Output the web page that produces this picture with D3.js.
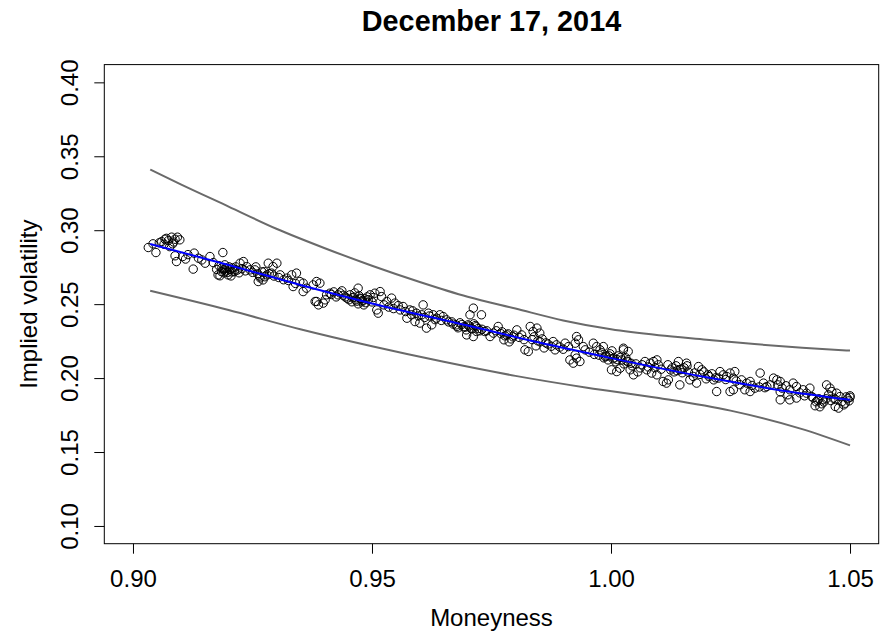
<!DOCTYPE html>
<html><head><meta charset="utf-8">
<script src="https://cdn.jsdelivr.net/npm/d3@7"></script>
<style>body{margin:0;background:#fff}svg{display:block}text{font-family:"Liberation Sans",Arial,Helvetica,sans-serif}</style>
</head><body><svg id="c" width="891" height="639"></svg>
<script>
const titleText = "December 17, 2014";
const xLabel = "Moneyness";
const yLabel = "Implied volatility";
const xTicks = [0.90, 0.95, 1.00, 1.05];
const yTicks = [0.10, 0.15, 0.20, 0.25, 0.30, 0.35, 0.40];

// scatter points (moneyness, implied volatility)
const ptX = [
0.9032,0.9042,0.9048,0.9060,0.9067,0.9074,0.9081,0.9088,0.9093,0.9083,0.9077,0.9088,0.9091,0.9104,0.9126,0.9128,0.9137,0.9144,0.9151,0.9161,0.9168,0.9178,0.9188,0.9192,0.9189,0.9182,0.9196,
0.9186,0.9195,0.9201,0.9207,0.9213,0.9199,0.9190,0.9205,0.9215,0.9224,0.9231,0.9238,0.9245,0.9255,0.9261,0.9270,0.9276,0.9266,0.9280,0.9257,0.9272,0.9262,0.9283,0.9293,0.9301,0.9290,0.9308,0.9322,0.9332,0.9342,0.9349,0.9335,0.9356,0.9363,0.9377,0.9381,0.9384,
0.9356,0.9391,0.9384,0.9388,0.9398,0.9402,0.9405,0.9412,0.9420,0.9429,0.9437,0.9444,0.9425,0.9433,0.9454,0.9460,0.9466,0.9473,0.9479,0.9485,0.9458,0.9471,0.9483,0.9490,0.9464,0.9477,0.9471,0.9496,0.9506,0.9517,0.9520,0.9510,0.9513,0.9531,0.9541,0.9548,0.9559,0.9565,0.9579,0.9583,0.9573,0.9590,0.9607,0.9593,0.9604,0.9618,0.9628,0.9635,0.9600,0.9614,0.9625,0.9642,0.9649,0.9656,
0.9667,0.9676,0.9684,0.9692,0.9701,0.9709,0.9718,0.9726,0.9680,0.9697,0.9713,0.9712,0.9698,0.9712,0.9719,0.9729,0.9705,
0.9736,0.9747,0.9754,0.9764,0.9772,0.9778,0.9785,0.9791,0.9776,0.9787,0.9795,0.9803,0.9813,0.9820,0.9827,0.9831,0.9837,0.9845,0.9851,0.9839,0.9847,0.9856,0.9864,0.9843,0.9860,0.9879,0.9886,0.9883,0.9904,0.9911,0.9914,0.9921,0.9928,0.9935,0.9925,0.9928,0.9932,0.9925,0.9946,0.9942,0.9963,0.9970,0.9977,0.9984,
0.9981,0.9990,0.9998,1.0006,1.0015,1.0023,1.0031,0.9994,1.0010,1.0027,0.9985,1.0002,1.0026,1.0001,1.0012,1.0019,1.0036,1.0044,1.0052,1.0061,1.0040,1.0056,1.0047,
1.0026,1.0036,1.0071,1.0082,1.0089,1.0099,1.0096,1.0075,1.0085,1.0096,1.0109,1.0120,1.0116,1.0119,1.0128,1.0136,1.0144,1.0153,1.0132,1.0149,1.0159,1.0141,1.0158,1.0144,1.0165,1.0172,1.0179,1.0183,1.0190,1.0194,1.0203,1.0211,1.0219,1.0199,1.0215,1.0221,1.0228,1.0235,1.0242,1.0249,1.0259,1.0256,1.0249,1.0256,1.0273,1.0284,1.0291,1.0280,1.0291,1.0301,1.0312,1.0319,1.0326,1.0333,1.0340,1.0347,1.0354,1.0349,1.0358,1.0366,1.0374,1.0354,1.0370,1.0354,1.0381,1.0388,
1.0374,1.0388,1.0402,1.0409,1.0416,1.0423,1.0429,1.0435,1.0441,1.0427,1.0437,1.0443,1.0451,1.0458,1.0462,1.0455,1.0465,1.0472,1.0479,1.0469,1.0476,1.0487,1.0492,1.0498,1.0500,
0.9055,0.9065,0.9070,0.9085,0.9098,0.9110,0.9115,
0.9175,0.9180,0.9185,0.9193,0.9198,0.9203,0.9208,0.9212,0.9218,0.9222,0.9228,0.9235,
0.9250,0.9265,0.9275,0.9285,0.9295,0.9305,0.9315,0.9325,0.9340,
0.9415,0.9440,0.9448,0.9452,0.9462,0.9468,0.9475,0.9480,0.9487,0.9492,0.9500,0.9503,
0.9525,0.9535,0.9545,0.9555,0.9570,0.9585,0.9597,0.9610,0.9620,0.9632,0.9645,0.9660,
0.9670,0.9678,0.9688,0.9695,0.9703,0.9707,0.9716,0.9722,0.9730,0.9740,
0.9760,0.9770,0.9782,0.9797,0.9808,0.9818,0.9835,0.9852,0.9868,0.9875,0.9893,0.9900,
0.9955,0.9965,0.9975,0.9988,0.9996,1.0004,1.0013,1.0020,1.0033,1.0042,
1.0065,1.0078,1.0092,1.0105,1.0125,1.0138,1.0148,1.0162,1.0175,1.0186,
1.0205,1.0225,1.0240,1.0262,1.0270,1.0295,1.0310,1.0322,
1.0395,1.0405,1.0420,1.0432,1.0445,1.0450,1.0460,1.0470,1.0483,1.0490,1.0495,1.0500
];
const ptY = [
0.2883,0.2908,0.2849,0.2923,0.2939,0.2930,0.2953,0.2939,0.2953,0.2908,0.2889,0.2827,0.2788,0.2822,0.2737,0.2845,0.2811,0.2799,0.2777,0.2822,0.2781,0.2698,0.2849,0.2766,0.2732,0.2692,0.2743,
0.2745,0.2725,0.2752,0.2718,0.2732,0.2698,0.2712,0.2691,0.2752,0.2777,0.2788,0.2754,0.2732,0.2732,0.2705,0.2718,0.2685,0.2678,0.2698,0.2752,0.2664,0.2653,0.2777,0.2754,0.2777,0.2710,0.2698,0.2676,0.2698,0.2710,0.2653,0.2619,0.2642,0.2608,0.2630,0.2518,0.2653,
0.2585,0.2642,0.2518,0.2495,0.2507,0.2529,0.2563,0.2574,0.2583,0.2563,0.2590,0.2549,0.2549,0.2576,0.2563,0.2543,0.2529,0.2556,0.2516,0.2536,0.2516,0.2502,0.2495,0.2549,0.2576,0.2536,0.2608,0.2563,0.2574,0.2585,0.2551,0.2461,0.2439,0.2518,0.2541,0.2507,0.2461,0.2484,0.2461,0.2428,0.2405,0.2382,0.2495,0.2439,0.2428,0.2439,0.2428,0.2405,0.2372,0.2338,0.2360,0.2428,0.2416,0.2394,
0.2380,0.2360,0.2374,0.2347,0.2360,0.2333,0.2347,0.2320,0.2340,0.2326,0.2367,0.2473,0.2292,0.2281,0.2315,0.2428,0.2428,
0.2315,0.2281,0.2304,0.2349,0.2313,0.2286,0.2299,0.2265,0.2259,0.2245,0.2279,0.2326,0.2292,0.2191,0.2180,0.2349,0.2315,0.2338,0.2304,0.2279,0.2252,0.2265,0.2238,0.2218,0.2204,0.2247,0.2225,0.2191,0.2236,0.2213,0.2123,0.2101,0.2135,0.2112,0.2157,0.2281,0.2259,0.2236,0.2191,0.2213,0.2236,0.2213,0.2191,0.2213,
0.2171,0.2150,0.2164,0.2137,0.2150,0.2123,0.2137,0.2123,0.2110,0.2096,0.2137,0.2184,0.2191,0.2056,0.2044,0.2067,0.2110,0.2083,0.2096,0.2069,0.2056,0.2042,0.2022,
0.2202,0.2180,0.2112,0.2101,0.2112,0.2090,0.2123,0.2056,0.2034,0.2022,0.1977,0.1988,0.1966,0.2090,0.2069,0.2083,0.2056,0.2069,0.2042,0.2036,0.2083,0.2112,0.2101,0.1954,0.1988,0.2011,0.1966,0.2078,0.2056,0.2042,0.2022,0.2029,0.2002,0.1995,0.1988,0.1909,0.2044,0.2022,0.2011,0.2034,0.2044,0.2000,0.1909,0.1921,0.1988,0.1966,0.1977,0.1921,0.1909,0.1932,0.2034,0.1966,0.1943,0.1954,0.2000,0.1988,0.1977,0.1954,0.1932,0.1948,0.1921,0.1907,0.1887,0.1853,0.1966,0.1943,
0.1853,0.1865,0.1921,0.1898,0.1932,0.1867,0.1840,0.1860,0.1826,0.1813,0.1806,0.1853,0.1954,0.1932,0.1909,0.1887,0.1865,0.1898,0.1875,0.1808,0.1797,0.1819,0.1873,0.1846,0.1880,
0.2915,0.2905,0.2945,0.2920,0.2935,0.2805,0.2835,
0.2735,0.2760,0.2720,0.2740,0.2715,0.2735,0.2745,0.2720,0.2730,0.2712,0.2740,0.2725,
0.2715,0.2690,0.2720,0.2705,0.2690,0.2680,0.2665,0.2660,0.2640,
0.2565,0.2560,0.2540,0.2530,0.2548,0.2520,0.2540,0.2525,0.2510,0.2530,0.2515,0.2545,
0.2495,0.2480,0.2470,0.2490,0.2450,0.2455,0.2420,0.2410,0.2420,0.2395,0.2390,0.2380,
0.2365,0.2350,0.2362,0.2345,0.2352,0.2338,0.2355,0.2335,0.2330,0.2320,
0.2320,0.2300,0.2292,0.2290,0.2275,0.2260,0.2260,0.2245,0.2230,0.2215,0.2210,0.2195,
0.2175,0.2160,0.2155,0.2145,0.2150,0.2130,0.2125,0.2140,0.2115,0.2100,
0.2090,0.2075,0.2070,0.2060,0.2055,0.2050,0.2060,0.2040,0.2035,0.2025,
0.2010,0.2000,0.1990,0.1980,0.1955,0.1950,0.1940,0.1935,
0.1900,0.1880,0.1875,0.1850,0.1838,0.1860,0.1848,0.1855,0.1840,0.1830,0.1860,0.1870
];

// fitted curve and band
const fitX = [0.9036,0.92,0.935,0.95,0.97,0.985,1.00,1.02,1.035,1.05];
const fitY = [0.2907,0.2765,0.2630,0.2505,0.2355,0.2240,0.2135,0.2005,0.1920,0.1853];
const upX = [0.9036,0.91,0.92,0.93,0.94,0.95,0.96,0.97,0.98,0.99,1.00,1.01,1.02,1.03,1.04,1.05];
const upY = [0.341,0.331,0.316,0.301,0.288,0.276,0.265,0.255,0.247,0.239,0.233,0.229,0.226,0.223,0.2205,0.2186];
const loX = [0.9036,0.92,0.935,0.95,0.965,0.98,0.995,1.01,1.025,1.04,1.05];
const loY = [0.259,0.246,0.233,0.2215,0.211,0.2015,0.1935,0.1865,0.178,0.1655,0.1545];

const svg = d3.select("#c");
const L = 104.3, R = 878.7, T = 64.6, B = 543.7;
const x = d3.scaleLinear().domain([0.894, 1.056]).range([L, R]);
const y = d3.scaleLinear().domain([0.088, 0.412]).range([B, T]);

const line = d3.line().x(d => x(d[0])).y(d => y(d[1])).curve(d3.curveMonotoneX);

svg.append("path").datum(d3.zip(upX, upY)).attr("d", line)
  .attr("fill", "none").attr("stroke", "#6a6a6a").attr("stroke-width", 2);
svg.append("path").datum(d3.zip(loX, loY)).attr("d", line)
  .attr("fill", "none").attr("stroke", "#6a6a6a").attr("stroke-width", 2);

svg.append("g").selectAll("circle").data(d3.zip(ptX, ptY)).join("circle")
  .attr("cx", d => x(d[0])).attr("cy", d => y(d[1])).attr("r", 4.2)
  .attr("fill", "none").attr("stroke", "#000").attr("stroke-width", 1);

svg.append("path").datum(d3.zip(fitX, fitY)).attr("d", line)
  .attr("fill", "none").attr("stroke", "#0000ff").attr("stroke-width", 2);

// box
svg.append("rect").attr("x", L).attr("y", T).attr("width", R - L).attr("height", B - T)
  .attr("fill", "none").attr("stroke", "#000").attr("stroke-width", 1);

// x axis
const xa = svg.append("g").attr("transform", `translate(0,${B})`)
  .call(d3.axisBottom(x).tickValues(xTicks).tickSize(10).tickPadding(0).tickFormat(d3.format(".2f")));
xa.select(".domain").remove();
xa.selectAll("line").attr("stroke", "#000");
xa.selectAll("text").attr("font-size", 24).attr("fill", "#000").attr("dy", null).attr("y", 43);

// y axis
const ya = svg.append("g").attr("transform", `translate(${L},0)`)
  .call(d3.axisLeft(y).tickValues(yTicks).tickSize(10).tickFormat(d3.format(".2f")));
ya.select(".domain").remove();
ya.selectAll("line").attr("stroke", "#000");
ya.selectAll("text").attr("font-size", 24).attr("fill", "#000")
  .attr("x", null).attr("dy", null)
  .attr("text-anchor", "middle")
  .attr("transform", "translate(-26,0) rotate(-90)");

svg.append("text").attr("x", (L + R) / 2).attr("y", 31).attr("text-anchor", "middle")
  .attr("font-size", 28.8).attr("font-weight", "bold").text(titleText);
svg.append("text").attr("x", (L + R) / 2).attr("y", 626).attr("text-anchor", "middle")
  .attr("font-size", 24).text(xLabel);
svg.append("text").attr("transform", `translate(37,${(T + B) / 2}) rotate(-90)`)
  .attr("text-anchor", "middle").attr("font-size", 24).text(yLabel);
</script></body></html>
